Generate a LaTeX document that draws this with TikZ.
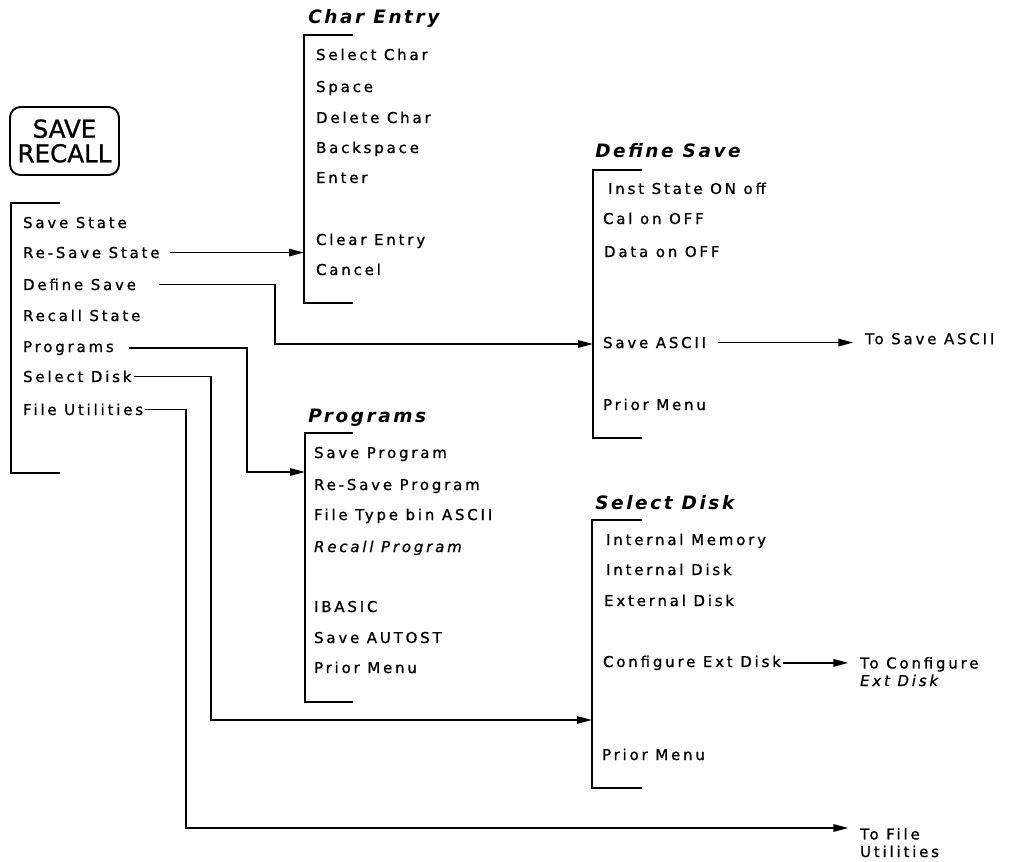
\documentclass[tikz,border=0pt]{standalone}
\usepackage{fontspec}
\usetikzlibrary{arrows.meta,positioning}
\newfontfamily\menufont[LetterSpace=19, FakeBold=1]{DejaVu Sans}
\newfontfamily\menutitlefont[LetterSpace=14]{DejaVu Sans}
\newfontfamily\keycapfont[FakeBold=1]{DejaVu Sans}
\tikzset{
  keycap/.style={draw, rounded corners=6pt, line width=1.1pt,
                 minimum width=2.18cm, minimum height=1.36cm, inner sep=0pt,
                 align=center, font=\fontsize{14}{14}\keycapfont},
  softkey/.style={anchor=base west, inner sep=1pt, font=\fontsize{8.5}{10}\menufont},
  softkeyit/.style={softkey, font=\fontsize{8.5}{10}\menufont\itshape},
  menutitle/.style={anchor=base west, inner sep=0pt,
                    font=\fontsize{10.5}{12}\menutitlefont\bfseries\itshape},
  exitnote/.style={anchor=north west, inner sep=1pt, align=left,
                   font=\fontsize{8.5}{10}\menufont},
  menubar/.style={line width=1.2pt},
  link/.style={line width=0.85pt},
  linkarrow/.style={link, -{Triangle[length=3mm,width=1.5mm]}},
  linkexit/.style={linkarrow, shorten >=5.5pt},
}

\begin{document}
\begin{tikzpicture}[x=0.02cm, y=-0.02cm]
  \useasboundingbox (0,0) rectangle (1009,862);
  % hardkey
  \node[keycap] (saverecall) at (64.5,141) {SAVE\\RECALL};

  % top level menu
  \draw[menubar] (60,203) -| (11,473) -- (60,473);
  \node[softkey] (savestate) at (21,228) {Save State};
  \node[softkey] (resave)    at (21,258) {Re-Save State};
  \node[softkey] (defsave)   at (21,290) {Define Save};
  \node[softkey] (recall)    at (21,321) {Recall State};
  \node[softkey] (progs)     at (21,352) {Programs};
  \node[softkey] (seldisk)   at (21,382) {Select Disk};
  \node[softkey] (fileutil)  at (21,415) {File Utilities};

  % Char Entry
  \node[menutitle] (cetitle) at (308,24) {Char Entry};
  \coordinate (ceTop) at (304,35);
  \draw[menubar] (353,35) -| (304,303) -- (353,303);
  \node[softkey] (selchar)  at (314,60)  {Select Char};
  \node[softkey] (space)    at (314,92)  {Space};
  \node[softkey] (delchar)  at (314,123) {Delete Char};
  \node[softkey] (backsp)   at (314,153) {Backspace};
  \node[softkey] (enter)    at (314,183) {Enter};
  \node[softkey] (clrentry) at (314,245) {Clear Entry};
  \node[softkey] (cancel)   at (314,275) {Cancel};

  % Define Save
  \node[menutitle] (dstitle) at (595,157) {Define Save};
  \coordinate (dsTop) at (593,170);
  \draw[menubar] (642,170) -| (593,438) -- (642,438);
  \node[softkey] (inststate) at (606,194) {Inst State ON off};
  \node[softkey] (calon)     at (601,224) {Cal on OFF};
  \node[softkey] (dataon)    at (602,257) {Data on OFF};
  \node[softkey] (saveascii) at (601,348) {Save ASCII};
  \node[softkey] (dsprior)   at (601,410) {Prior Menu};

  % Programs
  \node[menutitle] (prtitle) at (308,422) {Programs};
  \coordinate (prTop) at (305,433);
  \draw[menubar] (353,433) -| (305,702) -- (353,702);
  \node[softkey]   (saveprog)   at (312,458) {Save Program};
  \node[softkey]   (resaveprog) at (312,490) {Re-Save Program};
  \node[softkey]   (filetype)   at (312,520) {File Type bin ASCII};
  \node[softkeyit] (recallprog) at (312,552) {Recall Program};
  \node[softkey]   (ibasic)     at (312,612) {IBASIC};
  \node[softkey]   (autost)     at (312,643) {Save AUTOST};
  \node[softkey]   (prprior)    at (312,673) {Prior Menu};

  % Select Disk
  \node[menutitle] (sdtitle) at (595,509) {Select Disk};
  \coordinate (sdTop) at (592,520);
  \draw[menubar] (642,520) -| (592,788) -- (642,788);
  \node[softkey] (intmem)  at (604,545) {Internal Memory};
  \node[softkey] (intdisk) at (604,575) {Internal Disk};
  \node[softkey] (extdisk) at (602,606) {External Disk};
  \node[softkey] (confext) at (601,667) {Configure Ext Disk};
  \node[softkey] (sdprior) at (600,760) {Prior Menu};

  % exits
  \node[exitnote] (toascii) at (863,331) {To Save ASCII};
  \node[exitnote] (toconf)  at (858,655) {To Configure\\\textit{Ext Disk}};
  \node[exitnote] (tofile)  at (858,826) {To File\\Utilities};

  % connectors
  \coordinate (dsJog) at (275,344);
  \coordinate (prJog) at (247,472);
  \coordinate (sdJog) at (211,720);
  \coordinate (fuJog) at (186,828);
  \draw[linkarrow, shorten <=4.5pt] (resave.east) -- (resave.east -| ceTop);
  \draw[linkarrow, shorten <=12pt] (defsave.east) -| (dsJog) -- (dsJog -| dsTop);
  \draw[linkarrow, shorten <=7.5pt] (progs.east) -| (prJog) -- (prJog -| prTop);
  \draw[linkarrow] (seldisk.east) -| (sdJog) -- (sdJog -| sdTop);
  \draw[linkexit] (fileutil.east) -| (fuJog) -- (fuJog -| tofile.west);
  \draw[linkexit, shorten <=5.7pt] (saveascii.east) -- (saveascii.east -| toascii.west);
  \draw[linkexit] (confext.east) -- (confext.east -| toconf.west);
\end{tikzpicture}
\end{document}
